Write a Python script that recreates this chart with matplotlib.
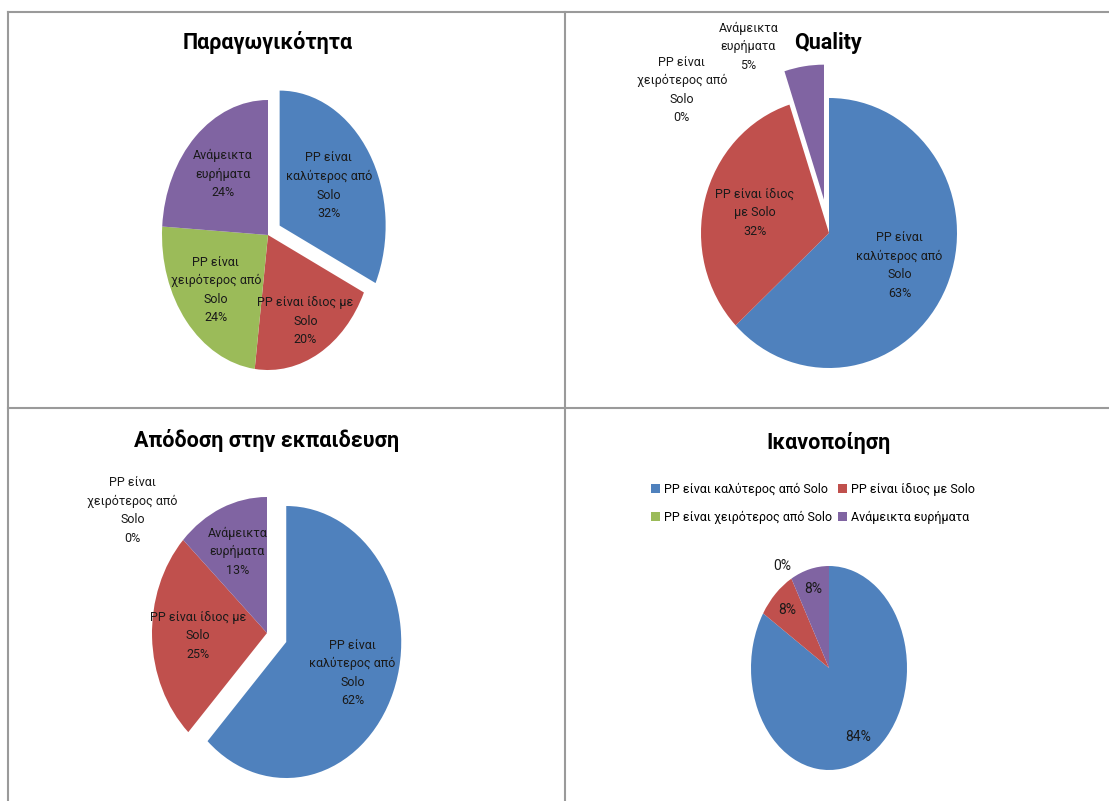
import matplotlib
matplotlib.use("Agg")
import matplotlib.pyplot as plt
from matplotlib.lines import Line2D
import numpy as np

W, H = 1109, 801
FONT = ['Roboto', 'Open Sans', 'DejaVu Sans']
plt.rcParams['font.family'] = FONT

# ---------------- data ----------------
categories = ["PP είναι καλύτερος από Solo", "PP είναι ίδιος με Solo",
              "PP είναι χειρότερος από Solo", "Ανάμεικτα ευρήματα"]
colors = ['#4F81BD', '#C0504D', '#9BBB59', '#8064A2']
titles = ["Παραγωγικότητα", "Quality", "Απόδοση στην εκπαιδευση", "Ικανοποίηση"]
productivity = [32, 20, 24, 24]
quality = [63, 32, 0, 5]
training = [62, 25, 0, 13]
satisfaction = [84, 8, 0, 8]

# wrapped category names used in the data labels of each chart
wrap_prod = ["PP είναι\nκαλύτερος από\nSolo", "PP είναι ίδιος με\nSolo",
             "PP είναι\nχειρότερος από\nSolo", "Ανάμεικτα\nευρήματα"]
wrap_qual = ["PP είναι\nκαλύτερος από\nSolo", "PP είναι ίδιος\nμε Solo",
             "PP είναι\nχειρότερος από\nSolo", "Ανάμεικτα\nευρήματα"]
wrap_train = ["PP είναι\nκαλύτερος από\nSolo", "PP είναι ίδιος με\nSolo",
              "PP είναι\nχειρότερος από\nSolo", "Ανάμεικτα\nευρήματα"]

fig = plt.figure(figsize=(W / 100, H / 100), dpi=100)
fig.patch.set_facecolor('white')

TXT = '#1a1a1a'


def draw_pie(cx, cy, rx, ry, values, explode, names, label_r, overrides, fs=9.0, L=1.8):
    ax = fig.add_axes([(cx - L * rx) / W, (H - cy - L * ry) / H,
                       2 * L * rx / W, 2 * L * ry / H])
    wedges, _ = ax.pie(values, colors=colors, startangle=90, counterclock=False,
                       explode=explode, radius=1, wedgeprops=dict(linewidth=0))
    ax.set_aspect('auto')
    ax.set_xlim(-L, L)
    ax.set_ylim(-L, L)
    ax.axis('off')
    for i, (w, v) in enumerate(zip(wedges, values)):
        txt = f"{v}%" if names is None else f"{names[i]}\n{v}%"
        if i in overrides:
            x, y = overrides[i]
        else:
            th = np.deg2rad((w.theta1 + w.theta2) / 2)
            x = w.center[0] + label_r[i] * np.cos(th)
            y = w.center[1] + label_r[i] * np.sin(th)
        ax.text(x, y, txt, ha='center', va='center', fontsize=fs, color=TXT,
                linespacing=1.55)
    return ax, wedges


# Top-left: Παραγωγικότητα
draw_pie(268, 235, 106, 135, productivity, [0.13, 0, 0, 0], wrap_prod,
         [0.55, 0.73, 0.64, 0.62], {})
# Top-right: Quality
draw_pie(829, 233, 128, 135, quality, [0, 0, 0, 0.25], wrap_qual,
         [0.6, 0.6, 0.6, 0.6], {2: (-1.15, 1.06), 3: (-0.63, 1.38)})
# Bottom-left: Απόδοση στην εκπαιδευση
draw_pie(267, 633, 115, 136, training, [0.18, 0, 0, 0], wrap_train,
         [0.62, 0.6, 0.6, 0.65], {2: (-1.17, 0.9)})
# Bottom-right: Ικανοποίηση
ax4, w4 = draw_pie(829, 668, 78, 102, satisfaction, [0, 0, 0, 0], None,
                   [0.77, 0.78, 1.1, 0.8], {2: (-0.6, 1.0)}, fs=10)

# titles
title_pos = [(268, 43), (828, 43), (267, 440), (828, 443)]
for t, (x, y) in zip(titles, title_pos):
    fig.text(x / W, 1 - y / H, t, ha='center', va='center', fontsize=15.5,
             fontweight='bold', color='black')

# legend for the satisfaction chart (row-wise order as in the reference)
order = [0, 2, 1, 3]
handles = [w4[i] for i in order]
labels = [categories[i] for i in order]
fig.legend(handles, labels, ncol=2, loc='center', bbox_to_anchor=(813 / W, 1 - 503 / H),
           frameon=False, fontsize=9, handlelength=0.7, handleheight=0.7,
           handletextpad=0.3, columnspacing=0.5, labelspacing=1.2)

# cell borders
bc = '#9a9a9a'
lines = [((8, 1109), (12, 12)), ((8, 1109), (408, 408)),
         ((8, 8), (12, 801)), ((565, 565), (12, 801))]
for xs, ys in lines:
    fig.add_artist(Line2D([xs[0] / W, xs[1] / W], [1 - ys[0] / H, 1 - ys[1] / H],
                          color=bc, linewidth=1.5, transform=fig.transFigure))

fig.savefig('out.png', dpi=100, facecolor='white')
